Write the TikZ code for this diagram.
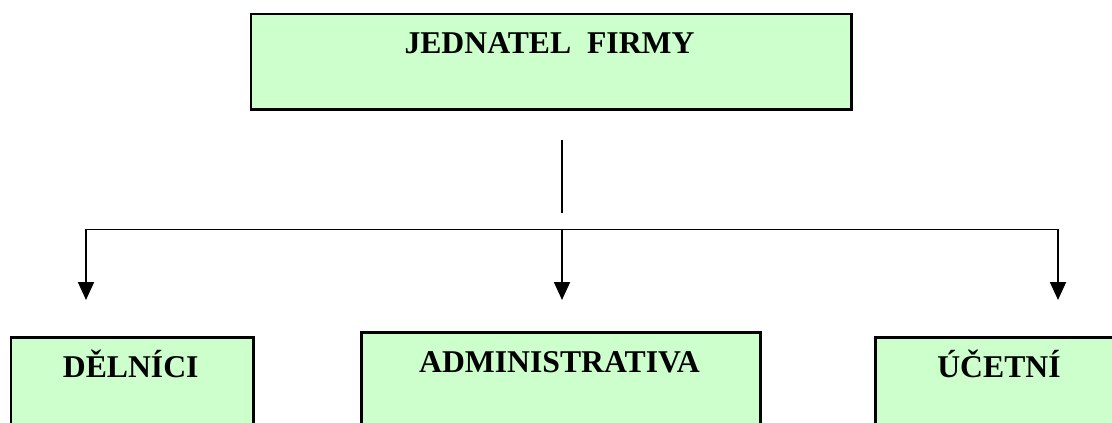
\documentclass[tikz,border=0pt]{standalone}
\usepackage{fontspec}
\setmainfont{Liberation Serif}
\usetikzlibrary{arrows.meta}
\definecolor{boxgreen}{HTML}{CCFFCC}
\tikzset{
  orgbox/.style={draw=black, fill=boxgreen, line width=2.5pt, inner sep=0pt, anchor=north west},
  lbl/.style={inner sep=0pt, anchor=base, font=\fontsize{31.7}{38}\selectfont\bfseries},
  conn/.style={line width=1.8pt, black},
  arr/.style={conn, -{Triangle[length=18pt, width=16pt]}}
}
\begin{document}
\begin{tikzpicture}[x=1pt, y=-1pt]
\clip (0,0) rectangle (1112,423);
\fill[white] (0,0) rectangle (1112,423);
% boxes
\node[orgbox, minimum width=600.5pt, minimum height=95.5pt] (top) at (249.5,12.5) {};
\node[orgbox, minimum width=242.5pt, minimum height=110pt] (left) at (9.5,336) {};
\node[orgbox, minimum width=399pt, minimum height=115pt] (mid) at (360,331) {};
\node[orgbox, minimum width=260pt, minimum height=110pt] (right) at (874,336) {};
% labels
\node[lbl] (toptxt) at (549.5,53) {JEDNATEL\ \ FIRMY};
\node[lbl] (lefttxt) at (130.7,377) {DĚLNÍCI};
\node[lbl] (midtxt) at (559.5,372) {ADMINISTRATIVA};
\node[lbl] (righttxt) at (999,377) {ÚČETNÍ};
% connector points
\coordinate (vtop) at (562,140);
\coordinate (vbot) at (562,213);
\coordinate (hl) at (86,229.5);
\coordinate (hm) at (562,229.5);
\coordinate (hr) at (1058,229.5);
\coordinate (tl) at (86,300);
\coordinate (tm) at (562,300);
\coordinate (tr) at (1058,300);
\draw[conn] (vtop) -- (vbot);
\draw[conn, line cap=rect] (hl) -- (hr);
\draw[arr] (hl) -- (tl);
\draw[arr] (hm) -- (tm);
\draw[arr] (hr) -- (tr);
\end{tikzpicture}
\end{document}
